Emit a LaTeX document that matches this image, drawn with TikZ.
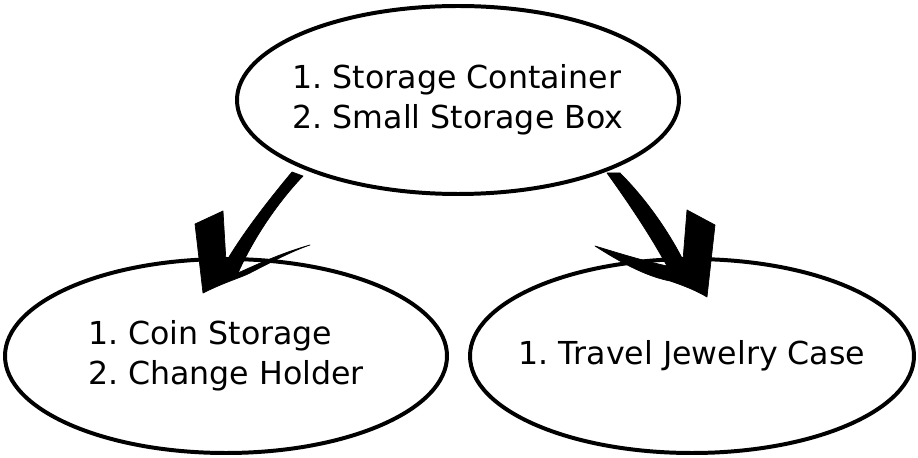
\documentclass[tikz,border=0pt]{standalone}
\usepackage{fontspec}
\setmainfont{DejaVu Sans}
\usetikzlibrary{shapes.geometric}
\begin{document}
\frenchspacing
\begin{tikzpicture}[x=0.03cm,y=-0.03cm,
  oval/.style={draw,line width=3.4pt,ellipse,inner xsep=-20pt,inner ysep=0pt,minimum width=442*0.03cm,align=left,font=\fontsize{27}{34}\selectfont},
  arrowfill/.style={fill=black,draw=black,line width=0.6pt,line join=round}]
\useasboundingbox (0,0) rectangle (918,458);
\node[oval,minimum height=188*0.03cm] (top) at (458,100) {1. Storage Container\\2. Small Storage Box};
\node[oval,minimum height=194*0.03cm] (left) at (226,356) {1. Coin Storage\\2. Change Holder};
\node[oval,minimum height=194*0.03cm,minimum width=444*0.03cm] (right) at (692,356) {1. Travel Jewelry Case};
% left arrow
\path[arrowfill] (292,172) .. controls (262,208) and (240,238) .. (226,262)
  -- (223,211) -- (195,224) -- (203,293)
  .. controls (225,282) and (240,278) .. (250,273)
  .. controls (275,260) and (295,250) .. (310,245)
  .. controls (285,252) and (262,262) .. (238,273)
  .. controls (255,235) and (280,200) .. (303,176) -- cycle;
% right arrow
\path[arrowfill] (607,173) .. controls (630,205) and (650,235) .. (667,266)
  .. controls (640,260) and (615,252) .. (595,246)
  .. controls (620,262) and (645,276) .. (670,281)
  .. controls (685,286) and (697,291) .. (707,297)
  -- (715,225) -- (687,210) -- (683,260)
  .. controls (665,225) and (642,195) .. (620,173) -- cycle;
\end{tikzpicture}
\end{document}
